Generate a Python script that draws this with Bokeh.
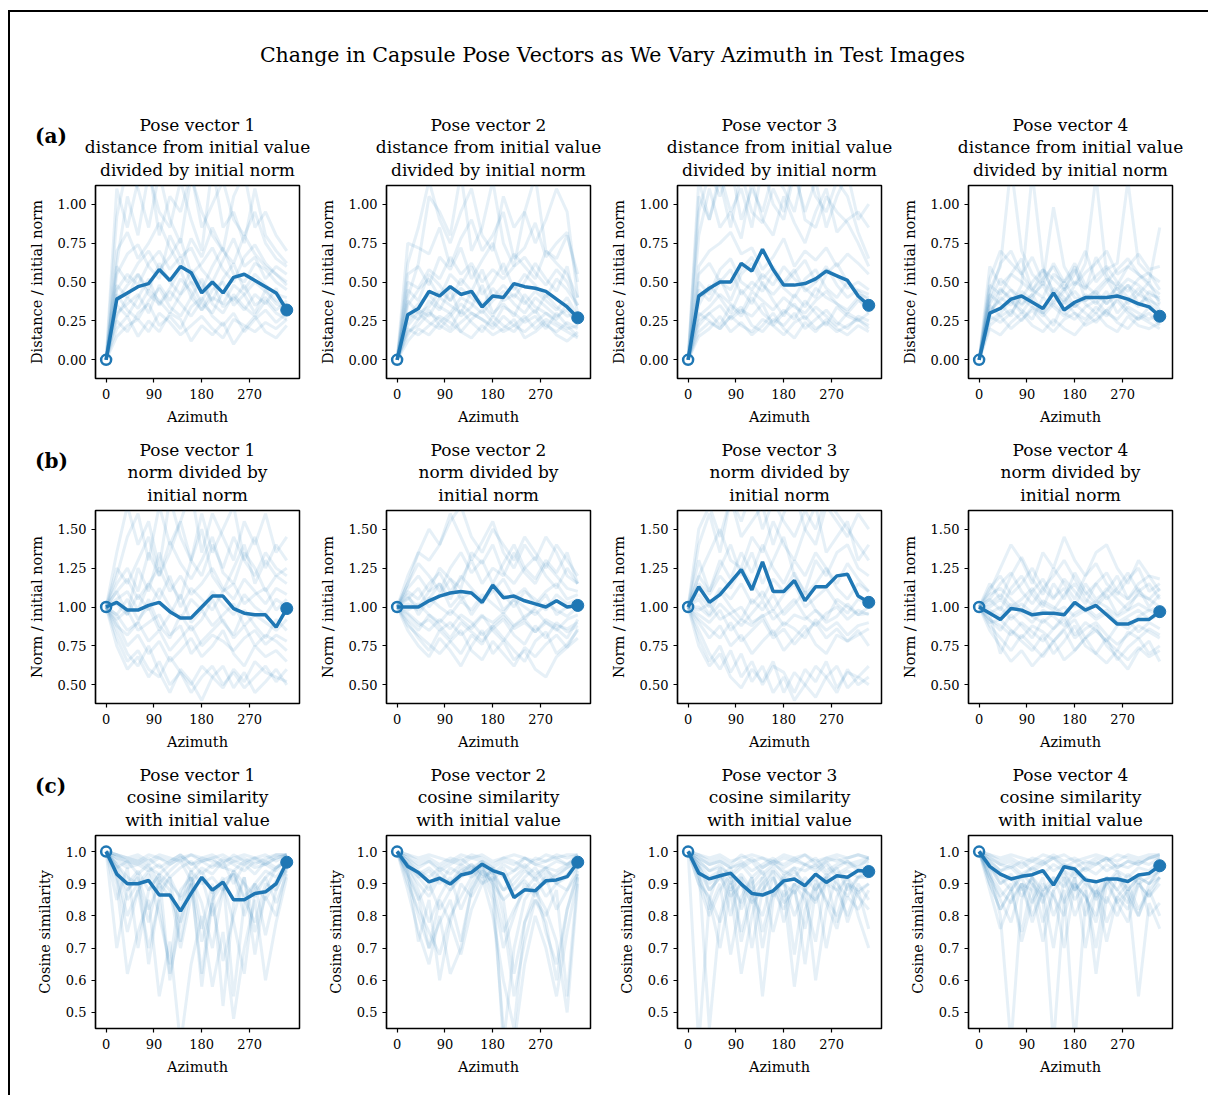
from bokeh.plotting import figure
from bokeh.models import Div, Title, FixedTicker, NumeralTickFormatter, Range1d, GridBox
from bokeh.layouts import row, column
from bokeh.embed import file_html
from bokeh.resources import INLINE

FONT = "DejaVu Serif"
COLOR = "#1f77b4"

azimuth = [0, 20, 40, 60, 80, 100, 120, 140, 160, 180, 200, 220, 240, 260, 280, 300, 320, 340]
x_ticks = [0, 90, 180, 270]

main_title = "Change in Capsule Pose Vectors as We Vary Azimuth in Test Images"
row_labels = ["(a)", "(b)", "(c)"]
vector_names = ["Pose vector 1", "Pose vector 2", "Pose vector 3", "Pose vector 4"]
row_subtitles = [["distance from initial value", "divided by initial norm"],
                 ["norm divided by", "initial norm"],
                 ["cosine similarity", "with initial value"]]
y_labels = ["Distance / initial norm", "Norm / initial norm", "Cosine similarity"]
x_label = "Azimuth"
y_ticks = [[0.0, 0.25, 0.5, 0.75, 1.0], [0.5, 0.75, 1.0, 1.25, 1.5], [0.5, 0.6, 0.7, 0.8, 0.9, 1.0]]
y_formats = ["0.00", "0.00", "0.0"]
y_limits = [(-0.12, 1.12), (0.38, 1.62), (0.45, 1.05)]

# ---- mean (bold) curves ----
mean_a1 = [0, .39, .43, .47, .49, .58, .51, .60, .56, .43, .50, .43, .53, .55, .51, .47, .43, .32]
mean_a2 = [0, .29, .33, .44, .41, .47, .42, .44, .34, .41, .40, .49, .47, .46, .44, .39, .34, .27]
mean_a3 = [0, .41, .46, .50, .50, .62, .57, .71, .58, .48, .48, .49, .52, .57, .54, .51, .41, .35]
mean_a4 = [0, .30, .33, .39, .41, .37, .33, .43, .32, .37, .40, .40, .40, .41, .39, .36, .34, .28]
mean_b1 = [1.0, 1.03, .98, .98, 1.01, 1.03, .97, .93, .93, 1.0, 1.07, 1.07, .99, .96, .95, .95, .87, .99]
mean_b2 = [1.0, 1.0, 1.0, 1.04, 1.07, 1.09, 1.10, 1.09, 1.03, 1.14, 1.06, 1.07, 1.04, 1.02, 1.0, 1.04, 1.0, 1.01]
mean_b3 = [1.0, 1.13, 1.03, 1.08, 1.16, 1.24, 1.11, 1.29, 1.10, 1.10, 1.17, 1.04, 1.13, 1.13, 1.20, 1.21, 1.07, 1.03]
mean_b4 = [1.0, .96, .92, .99, .98, .95, .96, .96, .95, 1.03, .98, 1.01, .95, .89, .89, .92, .92, .97]
mean_c1 = [1.0, .93, .90, .90, .91, .865, .865, .815, .87, .92, .88, .905, .85, .85, .87, .875, .90, .967]
mean_c2 = [1.0, .954, .935, .906, .917, .899, .927, .935, .961, .941, .93, .857, .881, .878, .909, .912, .922, .967]
mean_c3 = [1.0, .933, .915, .925, .933, .899, .87, .865, .878, .909, .915, .894, .93, .904, .925, .92, .941, .938]
mean_c4 = [1.0, .954, .93, .915, .923, .928, .941, .896, .953, .946, .912, .906, .915, .915, .907, .927, .932, .956]

# ---- individual (faint) curves ----
faint_a1 = [
    [0, .62, 1.05, .80, 1.20, .95, .85, 1.15, .90, .70, 1.25, .85, .95, .75, 1.10, .80, .70, .62],
    [0, .92, 1.25, 1.10, .85, 1.20, .90, .75, 1.18, .95, .80, .70, 1.05, 1.20, .85, .95, .80, .70],
    [0, .45, .55, .48, .62, .70, .58, .66, .50, .45, .60, .72, .55, .50, .62, .58, .50, .45],
    [0, .30, .36, .42, .30, .48, .38, .52, .44, .32, .40, .36, .48, .42, .30, .45, .38, .35],
    [0, .25, .18, .30, .36, .22, .28, .20, .34, .40, .28, .22, .30, .18, .26, .32, .24, .30],
    [0, .48, .40, .55, .45, .62, .50, .42, .58, .48, .38, .52, .62, .45, .55, .48, .42, .40],
    [0, .20, .28, .15, .25, .18, .30, .26, .12, .22, .16, .24, .10, .20, .28, .18, .14, .22],
    [0, .70, .82, .65, .75, .88, .72, .60, .78, .66, .85, .70, .62, .80, .68, .60, .55, .48],
    [0, .35, .28, .40, .52, .35, .44, .36, .28, .38, .50, .34, .40, .32, .42, .36, .46, .28],
    [0, .55, .68, .74, .60, .52, .80, .66, .72, .58, .50, .64, .78, .60, .66, .52, .60, .55],
    [0, .28, .40, .33, .45, .38, .30, .42, .50, .36, .30, .44, .38, .48, .35, .40, .32, .38],
    [0, .15, .22, .26, .18, .30, .24, .16, .22, .28, .20, .14, .26, .22, .18, .24, .20, .26],
    [0, .60, .50, .62, .70, .58, .66, .78, .55, .62, .72, .58, .50, .66, .74, .62, .55, .50],
    [0, 1.10, .85, 1.15, 1.25, .80, 1.05, .95, 1.20, .85, 1.00, 1.15, .90, .80, .95, .75, .65, .60],
    [0, .38, .48, .55, .42, .36, .46, .58, .40, .32, .45, .50, .35, .42, .50, .44, .36, .33],
    [0, .42, .32, .26, .38, .46, .34, .28, .40, .52, .36, .30, .42, .34, .28, .38, .30, .26],
]
faint_a2 = [
    [0, .40, .62, 1.05, .95, .80, 1.20, .70, .85, 1.15, .75, .60, .95, 1.18, .70, .65, .80, .55],
    [0, .75, .72, .68, .85, .60, .78, .90, .70, .80, .95, .65, .72, .88, .66, .75, .82, .50],
    [0, .25, .32, .28, .40, .35, .30, .44, .36, .28, .40, .48, .38, .30, .42, .34, .28, .30],
    [0, .18, .22, .30, .26, .20, .32, .24, .18, .28, .22, .18, .26, .32, .22, .18, .24, .20],
    [0, .35, .45, .52, .40, .55, .48, .60, .42, .50, .62, .45, .55, .48, .40, .52, .45, .35],
    [0, .12, .20, .16, .24, .30, .18, .14, .22, .16, .20, .26, .14, .18, .24, .16, .12, .18],
    [0, .30, .26, .38, .32, .45, .28, .34, .48, .30, .36, .28, .42, .34, .30, .26, .36, .25],
    [0, .55, .60, .48, .66, .58, .72, .52, .64, .75, .55, .68, .60, .52, .70, .62, .55, .40],
    [0, .22, .30, .24, .20, .28, .36, .30, .26, .22, .34, .30, .24, .28, .20, .30, .22, .15],
    [0, .45, .38, .55, .48, .38, .52, .44, .58, .40, .48, .40, .50, .62, .52, .44, .60, .30],
    [0, .28, .36, .42, .34, .30, .40, .36, .30, .38, .44, .36, .30, .40, .34, .28, .32, .22],
    [0, .20, .16, .22, .28, .24, .18, .26, .32, .24, .18, .22, .28, .20, .26, .22, .18, .14],
    [0, .62, .85, 1.15, .90, .75, .95, 1.10, .80, .70, 1.05, .85, .95, .75, .90, 1.10, .95, .40],
    [0, .38, .30, .34, .44, .38, .46, .40, .34, .46, .38, .42, .36, .44, .38, .32, .40, .28],
    [0, .16, .26, .32, .22, .18, .24, .30, .26, .20, .28, .22, .18, .24, .30, .24, .20, .22],
    [0, .50, .46, .58, .52, .66, .55, .62, .50, .58, .52, .60, .66, .56, .48, .58, .50, .35],
]
faint_a3 = [
    [0, 1.15, .90, 1.20, .95, 1.10, .85, 1.25, 1.00, .90, 1.20, .95, 1.15, .85, 1.05, 1.20, .90, 1.00],
    [0, .80, 1.10, .85, .95, .78, 1.15, .90, .80, 1.05, .88, .75, .95, 1.10, .82, .90, .95, .85],
    [0, .60, .70, .75, .82, .68, .72, .58, .66, .78, .60, .70, .64, .72, .60, .68, .62, .55],
    [0, .40, .45, .52, .38, .55, .62, .48, .42, .50, .58, .44, .50, .60, .48, .40, .45, .42],
    [0, .25, .30, .22, .35, .28, .40, .30, .24, .32, .26, .38, .30, .22, .34, .28, .25, .30],
    [0, .35, .48, .40, .30, .45, .36, .50, .38, .28, .42, .34, .46, .40, .36, .30, .38, .35],
    [0, .15, .20, .28, .18, .24, .16, .22, .30, .20, .14, .24, .18, .26, .20, .16, .22, .18],
    [0, .50, .42, .58, .65, .50, .45, .55, .48, .60, .52, .46, .40, .55, .62, .50, .42, .40],
    [0, .30, .25, .20, .28, .34, .22, .18, .26, .22, .30, .20, .26, .32, .24, .20, .28, .25],
    [0, .95, 1.20, 1.05, 1.25, .90, 1.10, .95, 1.20, 1.10, .95, 1.25, 1.05, .95, 1.15, 1.05, .82, .65],
    [0, .28, .34, .42, .36, .30, .44, .38, .32, .40, .34, .30, .38, .44, .36, .32, .40, .30],
    [0, .18, .24, .20, .28, .22, .18, .26, .22, .16, .24, .28, .20, .24, .18, .22, .26, .20],
    [0, 1.05, .90, 1.15, .85, 1.20, .95, .88, 1.10, .95, 1.25, .90, .85, 1.05, .95, .88, .75, .60],
    [0, .45, .38, .50, .58, .42, .50, .44, .56, .46, .40, .52, .58, .46, .40, .50, .44, .38],
    [0, .22, .30, .35, .26, .32, .28, .36, .22, .30, .36, .26, .34, .28, .22, .30, .26, .22],
    [0, .55, .62, .50, .45, .58, .66, .52, .60, .48, .56, .64, .50, .58, .54, .46, .50, .45],
]
faint_a4 = [
    [0, .45, .60, 1.25, .70, .55, .48, .62, .50, .58, .45, .66, .52, .48, .60, .55, .50, .85],
    [0, .30, .40, .35, .48, 1.20, .60, .42, .50, .40, .38, .45, .52, .40, .48, .42, .38, .35],
    [0, .52, .70, .62, .55, .66, .50, .98, .60, .48, .56, .62, .70, .55, .60, .68, .58, .60],
    [0, .25, .30, .38, .32, .26, .40, .34, .28, .36, .30, .24, .32, .38, .30, .26, .34, .28],
    [0, .20, .16, .24, .30, .22, .18, .26, .20, .16, .24, .30, .22, .18, .28, .22, .20, .24],
    [0, .38, .52, .45, .40, .50, .58, .44, .36, .48, .62, 1.18, .55, .45, .52, .48, .42, .40],
    [0, .35, .28, .32, .25, .34, .30, .22, .38, .30, .26, .34, .28, .40, .32, .26, .30, .22],
    [0, .60, .48, .55, .65, .45, .52, .60, .46, .55, .70, .50, .58, .62, 1.15, .62, .55, .50],
    [0, .42, .36, .28, .44, .38, .30, .46, .40, .34, .42, .36, .44, .30, .38, .46, .36, .30],
    [0, .28, .45, .40, .35, .42, .48, .36, .44, .60, .38, .42, .36, .48, .40, .34, .44, .38],
    [0, .32, .38, .45, .36, .42, .30, .38, .46, .34, .40, .44, .36, .42, .48, .36, .40, .32],
    [0, .22, .28, .20, .26, .32, .24, .18, .26, .30, .22, .26, .32, .24, .20, .28, .24, .20],
    [0, .48, .42, .55, .50, .44, .58, .52, .45, .50, .46, .54, .60, .50, .44, .52, .56, .45],
    [0, .40, .62, .70, .55, .45, .40, .55, .50, .62, .48, .42, .50, .58, .65, .55, .48, .42],
    [0, .28, .24, .30, .40, .34, .28, .36, .30, .26, .34, .38, .30, .26, .34, .30, .26, .30],
    [0, .36, .46, .38, .30, .40, .50, .42, .38, .44, .36, .30, .40, .46, .36, .42, .50, .36],
]
faint_b1 = [
    [1, 1.35, 1.65, 1.40, 1.55, 1.25, 1.70, 1.45, 1.30, 1.60, 1.35, 1.50, 1.65, 1.30, 1.45, 1.25, 1.40, 1.30],
    [1, 1.15, 1.25, 1.10, 1.35, 1.20, 1.42, 1.28, 1.18, 1.30, 1.45, 1.22, 1.15, 1.35, 1.25, 1.10, 1.20, 1.15],
    [1, .95, .85, .90, 1.05, .88, .80, .95, .85, .92, 1.05, .90, .82, .98, .88, .80, .92, .85],
    [1, .90, .75, .82, .70, .78, .65, .72, .80, .68, .75, .85, .70, .62, .75, .68, .72, .65],
    [1, 1.05, 1.10, .98, 1.15, 1.05, 1.20, 1.00, 1.12, 1.05, .98, 1.10, 1.15, 1.02, 1.08, 1.12, .98, 1.05],
    [1, .80, .65, .72, .60, .55, .68, .58, .50, .62, .55, .48, .60, .52, .65, .58, .55, .52],
    [1, 1.10, .95, 1.25, 1.10, 1.35, 1.15, 1.05, 1.30, 1.50, 1.20, 1.10, 1.25, 1.40, 1.15, 1.30, 1.20, 1.25],
    [1, .92, .98, .85, .90, .95, .82, .88, .70, .78, .85, .92, .80, .88, .75, .82, .78, .72],
    [1, 1.20, 1.45, 1.60, 1.30, 1.65, 1.40, 1.55, 1.75, 1.35, 1.60, 1.45, 1.30, 1.55, 1.40, 1.60, 1.35, 1.45],
    [1, .85, .70, .62, .75, .58, .45, .60, .52, .40, .55, .62, .48, .58, .45, .52, .60, .50],
    [1, 1.02, .95, 1.08, .98, 1.12, 1.00, .92, 1.05, .98, 1.10, 1.02, .95, 1.08, 1.00, .95, 1.05, 1.00],
    [1, .88, .82, .90, .78, .85, .72, .80, .88, .75, .82, .78, .72, .80, .85, .76, .82, .78],
    [1, 1.25, 1.15, 1.30, 1.45, 1.20, 1.35, 1.55, 1.30, 1.20, 1.40, 1.25, 1.45, 1.30, 1.20, 1.35, 1.25, 1.20],
    [1, .95, 1.05, .92, 1.00, .85, .95, 1.08, .90, .98, .88, .95, 1.02, .88, .95, .90, .85, .92],
    [1, .75, .60, .68, .55, .65, .50, .58, .45, .55, .62, .50, .58, .48, .55, .62, .52, .60],
    [1, 1.10, 1.18, 1.05, 1.15, 1.25, 1.10, 1.20, 1.08, 1.15, 1.25, 1.12, 1.05, 1.18, 1.10, 1.02, 1.12, 1.08],
]
faint_b2 = [
    [1, 1.20, 1.35, 1.30, 1.40, 1.55, 1.65, 1.45, 1.35, 1.50, 1.40, 1.30, 1.45, 1.35, 1.25, 1.40, 1.30, 1.20],
    [1, 1.10, 1.05, 1.15, 1.22, 1.10, 1.18, 1.30, 1.15, 1.25, 1.20, 1.35, 1.22, 1.15, 1.28, 1.20, 1.12, 1.10],
    [1, .95, .88, .92, .85, .90, .82, .88, .95, .85, .78, .88, .92, .84, .90, .86, .80, .92],
    [1, .90, .80, .72, .85, .78, .70, .82, .76, .88, .80, .72, .65, .78, .84, .70, .76, .85],
    [1, 1.05, 1.12, 1.00, 1.08, 1.18, 1.05, 1.10, 1.02, 1.15, 1.08, 1.00, 1.10, 1.05, .98, 1.08, 1.02, 1.05],
    [1, .85, .75, .68, .80, .72, .62, .75, .85, .70, .78, .66, .72, .60, .55, .68, .74, .80],
    [1, 1.15, 1.28, 1.20, 1.10, 1.25, 1.35, 1.22, 1.30, 1.15, 1.28, 1.40, 1.25, 1.18, 1.30, 1.22, 1.35, 1.15],
    [1, .98, 1.02, .95, .90, .98, .92, .86, .94, .90, .96, .88, .94, .98, .90, .85, .92, .95],
    [1, 1.08, .95, 1.05, 1.15, 1.00, 1.08, .95, 1.05, 1.12, .98, 1.05, .92, 1.00, 1.08, .95, 1.00, 1.00],
    [1, .92, .85, .95, .88, .80, .90, .84, .78, .86, .92, .82, .76, .88, .80, .90, .84, .88],
    [1, 1.02, .98, 1.06, 1.00, .95, 1.04, .98, 1.08, 1.02, .96, 1.05, 1.00, .95, 1.02, .98, .94, 1.00],
    [1, 1.12, 1.20, 1.10, 1.25, 1.18, 1.12, 1.35, 1.28, 1.40, 1.22, 1.15, 1.25, 1.32, 1.20, 1.12, 1.25, 1.15],
    [1, .96, .90, .85, .92, .86, .95, .90, .82, .88, .94, .86, .90, .84, .92, .88, .86, .90],
    [1, 1.06, 1.00, 1.10, 1.15, 1.05, 1.20, 1.12, 1.04, 1.10, 1.18, 1.06, 1.12, 1.02, 1.10, 1.15, 1.05, 1.08],
    [1, .88, .82, .76, .70, .78, .85, .72, .66, .78, .70, .62, .74, .68, .76, .82, .74, .86],
    [1, 1.15, 1.35, 1.50, 1.40, 1.60, 1.45, 1.30, 1.42, 1.55, 1.35, 1.25, 1.40, 1.30, 1.45, 1.35, 1.20, 1.15],
]
faint_b3 = [
    [1, 1.40, 1.60, 1.35, 1.70, 1.45, 1.55, 1.65, 1.40, 1.60, 1.75, 1.50, 1.40, 1.65, 1.55, 1.45, 1.60, 1.50],
    [1, 1.20, 1.35, 1.50, 1.30, 1.25, 1.45, 1.35, 1.55, 1.40, 1.30, 1.50, 1.65, 1.35, 1.45, 1.55, 1.30, 1.40],
    [1, .90, .80, .88, .75, .82, .70, .78, .85, .72, .80, .88, .76, .70, .82, .78, .85, .75],
    [1, .85, .70, .60, .72, .55, .65, .50, .62, .58, .45, .60, .52, .65, .48, .58, .55, .62],
    [1, 1.05, .95, 1.10, 1.00, .92, 1.05, .98, 1.08, .95, 1.02, 1.10, .98, .92, 1.05, 1.00, .95, 1.00],
    [1, 1.15, 1.08, 1.20, 1.12, 1.25, 1.15, 1.05, 1.18, 1.10, 1.22, 1.08, 1.15, 1.25, 1.12, 1.05, 1.15, 1.10],
    [1, .95, .90, .98, .85, .92, .88, .95, .82, .90, .86, .80, .92, .85, .90, .82, .88, .90],
    [1, 1.30, 1.10, 1.25, 1.40, 1.20, 1.35, 1.15, 1.30, 1.45, 1.20, 1.10, 1.30, 1.20, 1.35, 1.40, 1.25, 1.20],
    [1, .80, .65, .75, .58, .70, .52, .62, .45, .55, .40, .50, .62, .55, .45, .60, .50, .55],
    [1, .98, 1.02, .92, .96, 1.00, .90, .94, .98, .88, .95, .92, .98, .90, .94, 1.02, .95, .96],
    [1, 1.08, 1.00, 1.12, 1.05, 1.15, 1.02, 1.10, .98, 1.08, 1.15, 1.00, 1.06, 1.12, 1.02, .96, 1.05, 1.02],
    [1, .92, .86, .80, .90, .78, .85, .92, .80, .86, .76, .84, .90, .80, .86, .78, .82, .86],
    [1, 1.50, 1.65, 1.45, 1.70, 1.55, 1.75, 1.50, 1.68, 1.55, 1.45, 1.62, 1.50, 1.70, 1.60, 1.50, 1.40, 1.30],
    [1, 1.00, .94, 1.02, .95, .88, .96, 1.04, .92, .98, 1.05, .94, .88, .96, 1.00, .92, .98, .95],
    [1, .75, .62, .70, .55, .48, .60, .52, .65, .45, .58, .50, .42, .55, .62, .48, .55, .50],
    [1, 1.20, 1.10, 1.30, 1.18, 1.35, 1.22, 1.40, 1.25, 1.15, 1.30, 1.20, 1.35, 1.25, 1.15, 1.28, 1.18, 1.10],
]
faint_b4 = [
    [1, 1.10, 1.25, 1.40, 1.30, 1.15, 1.35, 1.25, 1.45, 1.30, 1.20, 1.35, 1.40, 1.25, 1.15, 1.30, 1.20, 1.18],
    [1, 1.05, .98, 1.12, 1.20, 1.08, 1.00, 1.15, 1.05, 1.22, 1.10, 1.02, 1.12, 1.05, .98, 1.10, 1.15, 1.05],
    [1, .92, .85, .95, .88, .80, .92, .86, .95, .82, .90, .85, .78, .88, .92, .84, .90, .86],
    [1, .95, .70, .85, .78, .72, .82, .70, .78, .88, .75, .70, .80, .66, .74, .80, .70, .75],
    [1, 1.02, 1.08, 1.00, 1.05, 1.12, 1.02, .98, 1.08, 1.15, 1.05, 1.00, 1.08, .95, 1.02, 1.08, 1.05, 1.00],
    [1, .88, .80, .72, .82, .75, .68, .78, .85, .72, .80, .88, .75, .68, .60, .72, .78, .65],
    [1, 1.15, 1.05, 1.20, 1.32, 1.18, 1.08, 1.25, 1.15, 1.05, 1.20, 1.28, 1.15, 1.08, 1.18, 1.25, 1.10, 1.15],
    [1, .96, 1.00, .92, .98, .94, .90, .96, 1.00, .94, .98, .92, .96, .90, .94, .98, .92, .95],
    [1, .90, .92, .85, .80, .88, .84, .78, .86, .92, .80, .85, .78, .72, .84, .80, .86, .82],
    [1, 1.08, 1.12, 1.05, .98, 1.10, 1.18, 1.06, 1.12, 1.00, 1.15, 1.05, 1.10, 1.20, 1.05, 1.12, 1.00, 1.08],
    [1, 1.00, 1.05, .98, 1.02, .96, 1.04, 1.00, .95, 1.02, .98, 1.04, 1.00, .94, .98, 1.02, .98, 1.00],
    [1, .92, .88, .82, .90, .84, .78, .86, .92, .80, .86, .90, .82, .76, .82, .88, .84, .80],
    [1, 1.12, 1.20, 1.08, 1.15, 1.25, 1.12, 1.05, 1.18, 1.10, 1.02, 1.15, 1.22, 1.10, 1.05, 1.15, 1.20, 1.10],
    [1, .98, .94, 1.02, .96, .90, .98, .94, .88, .96, 1.00, .94, .98, .90, .86, .94, .98, .94],
    [1, .85, .75, .65, .72, .62, .70, .78, .66, .72, .80, .70, .64, .72, .66, .74, .68, .72],
    [1, 1.05, 1.15, 1.22, 1.10, 1.02, 1.12, 1.20, 1.30, 1.18, 1.08, 1.15, 1.05, 1.12, 1.22, 1.10, 1.05, 1.12],
]
faint_c1 = [
    [1, .99, .98, .99, .97, .99, .98, .97, .99, .98, .99, .97, .98, .99, .98, .99, .97, .99],
    [1, .97, .95, .96, .94, .96, .92, .95, .97, .93, .96, .95, .94, .97, .95, .96, .94, .98],
    [1, .93, .80, .88, .70, .85, .62, .78, .90, .72, .84, .66, .80, .92, .75, .86, .80, .95],
    [1, .98, .96, .97, .95, .93, .96, .98, .94, .97, .95, .98, .96, .94, .97, .96, .98, .99],
    [1, .90, .62, .75, .85, .55, .72, .40, .65, .80, .58, .75, .48, .70, .85, .60, .78, .92],
    [1, .96, .92, .90, .94, .88, .92, .85, .90, .94, .87, .91, .93, .86, .90, .94, .92, .96],
    [1, .85, .95, .70, .88, .93, .60, .82, .94, .76, .90, .52, .84, .92, .68, .88, .95, .97],
    [1, .99, .97, .98, .96, .98, .97, .99, .96, .98, .97, .96, .99, .97, .98, .96, .98, .99],
    [1, .94, .88, .92, .82, .90, .86, .78, .92, .84, .70, .88, .93, .80, .90, .85, .91, .94],
    [1, .95, .97, .93, .96, .90, .94, .97, .91, .95, .93, .97, .90, .96, .93, .97, .95, .98],
    [1, .98, .97, .96, .98, .95, .97, .99, .96, .97, .98, .95, .97, .96, .98, .97, .99, .99],
    [1, .96, .90, .94, .88, .93, .90, .86, .94, .90, .92, .88, .94, .90, .86, .92, .95, .97],
    [1, .92, .75, .88, .93, .80, .65, .88, .92, .58, .85, .90, .78, .62, .88, .92, .84, .93],
    [1, .99, .98, .97, .99, .98, .96, .98, .99, .97, .98, .99, .97, .98, .96, .98, .99, .99],
    [1, .95, .85, .90, .78, .92, .88, .70, .86, .92, .80, .88, .94, .85, .78, .90, .88, .95],
    [1, .70, .88, .93, .65, .86, .92, .72, .90, .62, .86, .92, .55, .84, .90, .74, .88, .96],
]
faint_c2 = [
    [1, .99, .98, .99, .98, .97, .99, .98, .99, .97, .98, .99, .98, .97, .99, .98, .99, .99],
    [1, .96, .92, .94, .90, .95, .93, .96, .92, .94, .88, .92, .95, .91, .94, .92, .95, .97],
    [1, .92, .80, .70, .85, .78, .68, .82, .90, .95, .80, .55, .72, .85, .78, .60, .82, .94],
    [1, .98, .95, .97, .94, .96, .98, .95, .97, .93, .96, .94, .98, .96, .95, .97, .96, .98],
    [1, .88, .75, .65, .80, .62, .70, .88, .94, .85, .45, .40, .65, .80, .70, .55, .75, .92],
    [1, .97, .93, .95, .92, .90, .94, .96, .93, .91, .95, .88, .92, .95, .90, .93, .95, .97],
    [1, .94, .72, .85, .60, .78, .90, .86, .92, .80, .60, .45, .78, .88, .82, .72, .50, .90],
    [1, .99, .97, .98, .96, .98, .97, .99, .98, .96, .98, .97, .95, .98, .97, .99, .98, .99],
    [1, .95, .90, .86, .92, .88, .93, .95, .90, .92, .85, .88, .91, .87, .93, .90, .92, .95],
    [1, .93, .85, .90, .82, .88, .92, .94, .96, .90, .75, .82, .88, .92, .86, .90, .88, .93],
    [1, .98, .96, .97, .95, .97, .96, .98, .97, .95, .97, .96, .98, .96, .97, .98, .96, .99],
    [1, .95, .88, .78, .86, .92, .82, .90, .95, .88, .70, .80, .90, .86, .92, .82, .88, .95],
    [1, .90, .82, .75, .68, .80, .86, .92, .95, .90, .85, .62, .78, .85, .80, .88, .55, .92],
    [1, .97, .94, .92, .95, .93, .96, .94, .97, .95, .92, .94, .96, .93, .95, .94, .96, .98],
    [1, .93, .86, .70, .78, .85, .72, .88, .94, .92, .40, .70, .85, .90, .75, .65, .82, .93],
    [1, .96, .92, .88, .94, .90, .95, .92, .96, .93, .88, .90, .94, .92, .95, .90, .93, .97],
]
faint_c3 = [
    [1, .99, .98, .99, .97, .98, .99, .98, .97, .99, .98, .99, .97, .98, .99, .98, .99, .98],
    [1, .40, .85, .95, .80, .92, .70, .88, .94, .78, .90, .85, .72, .92, .88, .80, .90, .85],
    [1, .97, .94, .96, .92, .95, .97, .93, .96, .94, .92, .96, .94, .97, .93, .95, .96, .97],
    [1, .92, .85, .70, .88, .62, .80, .92, .75, .88, .58, .82, .90, .70, .86, .92, .80, .70],
    [1, .98, .96, .97, .95, .97, .94, .96, .98, .95, .97, .96, .98, .94, .96, .97, .95, .98],
    [1, .95, .45, .80, .92, .75, .88, .55, .85, .93, .68, .90, .60, .82, .92, .78, .88, .76],
    [1, .96, .92, .94, .90, .93, .88, .92, .95, .91, .94, .90, .93, .96, .92, .94, .92, .95],
    [1, .90, .80, .88, .93, .72, .86, .80, .92, .84, .88, .76, .91, .85, .80, .90, .86, .82],
    [1, .99, .97, .98, .96, .99, .97, .98, .96, .98, .97, .99, .96, .98, .97, .98, .99, .98],
    [1, .94, .88, .92, .86, .90, .84, .88, .92, .86, .90, .88, .85, .90, .88, .92, .87, .90],
    [1, .98, .96, .97, .95, .96, .98, .95, .97, .96, .98, .96, .95, .97, .98, .96, .97, .98],
    [1, .95, .90, .93, .88, .92, .86, .90, .94, .90, .87, .92, .88, .93, .90, .86, .92, .93],
    [1, .93, .82, .90, .68, .86, .92, .70, .88, .82, .90, .65, .88, .92, .78, .86, .82, .88],
    [1, .97, .94, .95, .93, .96, .92, .95, .97, .93, .95, .94, .96, .93, .95, .97, .94, .96],
    [1, .90, .86, .78, .90, .84, .92, .75, .88, .90, .80, .88, .92, .84, .76, .90, .88, .90],
    [1, .96, .88, .92, .95, .82, .90, .94, .86, .92, .95, .88, .84, .92, .95, .88, .92, .92],
]
faint_c4 = [
    [1, .99, .98, .99, .98, .97, .99, .98, .99, .97, .98, .99, .98, .97, .99, .98, .99, .99],
    [1, .94, .80, .40, .85, .92, .78, .88, .70, .90, .86, .78, .92, .84, .88, .80, .90, .92],
    [1, .97, .94, .96, .93, .95, .97, .94, .96, .93, .95, .97, .94, .96, .95, .97, .96, .98],
    [1, .90, .82, .88, .75, .90, .86, .40, .85, .92, .80, .88, .72, .86, .90, .82, .88, .80],
    [1, .98, .96, .95, .97, .94, .96, .98, .95, .97, .94, .96, .98, .95, .97, .96, .98, .99],
    [1, .92, .86, .90, .72, .85, .92, .80, .88, .40, .84, .90, .78, .86, .82, .90, .86, .92],
    [1, .96, .90, .93, .88, .92, .86, .90, .94, .88, .92, .85, .90, .93, .88, .92, .90, .95],
    [1, .88, .76, .85, .90, .80, .88, .70, .92, .85, .90, .62, .86, .80, .88, .55, .84, .76],
    [1, .95, .92, .88, .93, .90, .84, .92, .89, .94, .90, .87, .92, .88, .93, .90, .92, .94],
    [1, .99, .97, .98, .96, .98, .97, .99, .97, .98, .96, .98, .97, .99, .98, .97, .98, .99],
    [1, .98, .96, .97, .95, .97, .96, .98, .96, .95, .97, .96, .98, .95, .97, .96, .98, .98],
    [1, .95, .90, .92, .86, .92, .88, .90, .93, .88, .92, .86, .90, .94, .88, .92, .90, .94],
    [1, .92, .85, .78, .90, .88, .72, .88, .92, .80, .88, .70, .90, .84, .78, .90, .86, .90],
    [1, .97, .94, .95, .92, .95, .93, .96, .94, .92, .95, .93, .96, .94, .92, .95, .94, .97],
    [1, .90, .82, .88, .92, .84, .90, .86, .80, .92, .70, .88, .84, .92, .86, .80, .88, .92],
    [1, .93, .88, .84, .90, .78, .88, .92, .84, .90, .86, .80, .92, .88, .84, .92, .80, .84],
]

means = [[mean_a1, mean_a2, mean_a3, mean_a4],
         [mean_b1, mean_b2, mean_b3, mean_b4],
         [mean_c1, mean_c2, mean_c3, mean_c4]]
faints = [[faint_a1, faint_a2, faint_a3, faint_a4],
          [faint_b1, faint_b2, faint_b3, faint_b4],
          [faint_c1, faint_c2, faint_c3, faint_c4]]

FRAME_W = 204
FIG_H = 325
B_RIGHT = 17
B_TOP = 80
B_BOTTOM = 52


def make_panel(r, c):
    b_left = 85 if c == 0 else 70
    p = figure(width=b_left + FRAME_W + B_RIGHT, height=FIG_H,
               x_range=Range1d(-20, 364), y_range=Range1d(*y_limits[r]),
               output_backend="svg", toolbar_location=None,
               min_border_left=b_left, min_border_right=B_RIGHT,
               min_border_top=B_TOP, min_border_bottom=B_BOTTOM)
    p.xgrid.visible = False
    p.ygrid.visible = False
    p.outline_line_color = "black"
    p.outline_line_width = 1.5
    p.outline_line_alpha = 1.0
    p.background_fill_color = "white"
    p.border_fill_color = "white"

    lines_text = [vector_names[c]] + row_subtitles[r]
    # first title added sits closest to the frame
    for k, t in enumerate(reversed(lines_text)):
        p.add_layout(Title(text=t, align="center", text_font=FONT,
                           text_font_size="17px", text_font_style="normal",
                           text_color="black", text_line_height=1.08,
                           vertical_align="top" if k == 0 else "bottom",
                           standoff=7 if k == 0 else 0), "above")

    for ax in (p.xaxis[0], p.yaxis[0]):
        ax.axis_line_color = "black"
        ax.axis_line_width = 1.2
        ax.major_tick_line_color = "black"
        ax.major_tick_line_width = 1.2
        ax.major_tick_out = 4
        ax.major_tick_in = 0
        ax.minor_tick_out = 0
        ax.minor_tick_in = 0
        ax.major_label_text_font = FONT
        ax.major_label_text_font_size = "13px"
        ax.major_label_text_color = "black"
        ax.axis_label_text_font = FONT
        ax.axis_label_text_font_size = "14.5px"
        ax.axis_label_text_font_style = "normal"
        ax.axis_label_text_color = "black"

    p.xaxis[0].major_label_standoff = 6
    p.xaxis[0].axis_label_standoff = 7
    p.yaxis[0].major_label_standoff = 5
    p.yaxis[0].axis_label_standoff = 10

    p.xaxis[0].ticker = FixedTicker(ticks=x_ticks)
    p.xaxis[0].axis_label = x_label
    p.yaxis[0].ticker = FixedTicker(ticks=y_ticks[r])
    p.yaxis[0].formatter = NumeralTickFormatter(format=y_formats[r])
    p.yaxis[0].axis_label = y_labels[r]

    lines = faints[r][c]
    p.multi_line(xs=[azimuth] * len(lines), ys=lines, line_color=COLOR,
                 line_alpha=0.11, line_width=3)
    m = means[r][c]
    p.line(azimuth, m, line_color=COLOR, line_width=3.5)
    p.scatter([azimuth[0]], [m[0]], size=10, fill_alpha=0.0,
              line_color=COLOR, line_width=2.5)
    p.scatter([azimuth[-1]], [m[-1]], size=12, fill_color=COLOR,
              line_color=COLOR)
    return p


CONTENT_W = 85 + 3 * 70 + 4 * (FRAME_W + B_RIGHT)
TITLE_H = 94

children = []
title_div = Div(
    text=('<div style="box-sizing:border-box;width:%dpx;padding-left:26px;padding-top:30px;'
          'text-align:center;font-family:\'DejaVu Serif\';font-size:20.5px;color:black;'
          'white-space:nowrap;">%s</div>' % (CONTENT_W, main_title)),
    width=CONTENT_W, height=TITLE_H, margin=0)
children.append((title_div, 0, 0, 1, 4))
for r in range(3):
    for c in range(4):
        children.append((make_panel(r, c), r + 1, c))
for r in range(3):
    lab = Div(text=('<div style="padding-left:25px;padding-top:17px;font-family:\'DejaVu Serif\';'
                    'font-weight:bold;font-size:20px;color:black;">%s</div>' % row_labels[r]),
              width=70, height=50, margin=0)
    children.append((lab, r + 1, 0))

grid = GridBox(children=children, spacing=0)

top_bar = Div(text=('<div style="height:9px"></div>'
                    '<div style="margin-left:8px;width:1200px;height:2px;background:black;"></div>'),
              width=1208, height=11, margin=0)
left_bar = Div(text='<div style="margin-left:8px;width:2px;height:1084px;background:black;"></div>',
               width=10, height=1084, margin=0)

layout = column(top_bar, row(left_bar, grid, spacing=0), spacing=0)

open("out.html", "w").write(file_html(layout, INLINE))
